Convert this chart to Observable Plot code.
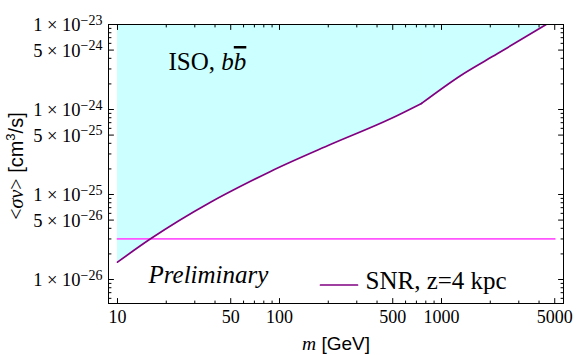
<!DOCTYPE html>
<html><head><meta charset="utf-8">
<script src="https://cdn.jsdelivr.net/npm/d3@7"></script>
<script src="https://cdn.jsdelivr.net/npm/@observablehq/plot@0.6"></script>
<style>
html,body{margin:0;padding:0;background:#fff;}
</style></head><body><div id="chart"></div>
<script>
// ISO profile, b b-bar channel: upper limit curve (two branches meeting at a kink near 750 GeV)
const massLow   = [10, 16, 37.5, 66.2, 88, 206, 484, 753];
const sigmaLow  = [1.60e-26, 3.01e-26, 8.11e-26, 1.43e-25, 1.87e-25, 3.87e-25, 7.78e-25, 1.18e-24];
const massHigh  = [753, 1309, 2208, 4426];
const sigmaHigh = [1.18e-24, 2.5e-24, 4.52e-24, 1.0e-23];
// SNR reference line
const snrMass  = [10, 5000];
const snrSigma = [3.0e-26, 3.0e-26];
// axes
const xDomain = [8.80, 5663];
const yDomain = [5.22e-27, 1e-23];
const xMajor = [10, 50, 100, 500, 1000, 5000];
const xMinor = [20, 30, 40, 60, 70, 80, 90, 200, 300, 400, 600, 700, 800, 900, 2000, 3000, 4000];
const yMajor = [1e-26, 5e-26, 1e-25, 5e-25, 1e-24, 5e-24, 1e-23];
const yMinor = [6e-27, 7e-27, 8e-27, 9e-27, 2e-26, 3e-26, 4e-26, 6e-26, 7e-26, 8e-26, 9e-26,
                2e-25, 3e-25, 4e-25, 6e-25, 7e-25, 8e-25, 9e-25, 2e-24, 3e-24, 4e-24, 6e-24, 7e-24, 8e-24, 9e-24];
const texts = {iso: "ISO, bb", prelim: "Preliminary", legend: "SNR, z=4 kpc", xLabel: "m [GeV]", yLabel: "<σv> [cm3/s]"};

const purple = "#800080", magenta = "#ff55ff", cyan = "#ccffff";
const serif = "'Liberation Serif', 'Times New Roman', serif";
const sans = "'Liberation Sans', Arial, Helvetica, sans-serif";

const curve = [
  ...massLow.map((m, i) => ({m, s: sigmaLow[i], seg: "low"})),
  ...massHigh.map((m, i) => ({m, s: sigmaHigh[i], seg: "high"}))
];
const snr = snrMass.map((m, i) => ({m, s: snrSigma[i]}));

const sciFormat = d => {
  const e = Math.floor(Math.log10(d) + 1e-9);
  const c = Math.round(d / Math.pow(10, e));
  return `${c} × 10^${e < 0 ? "−" : ""}${Math.abs(e)}`;
};

const lineShape = {draw(ctx, l) { ctx.moveTo(0, 0); ctx.lineTo(0, -l); }};
const tick = (data, channel, frameAnchor, rotate, length) =>
  Plot.vector(data, {[channel]: d => d, frameAnchor, rotate, length, anchor: "start", shape: lineShape, stroke: "black", strokeWidth: 1});

const chart = Plot.plot({
  width: 576, height: 355,
  marginLeft: 108, marginRight: 13, marginTop: 24, marginBottom: 52,
  style: {fontFamily: serif, fontSize: "18px", background: "white", color: "black"},
  x: {type: "log", domain: xDomain, axis: null},
  y: {type: "log", domain: yDomain, axis: null},
  marks: [
    Plot.areaY(curve, {x: "m", y1: "s", y2: yDomain[1], z: "seg", fill: cyan, curve: "monotone-x"}),
    Plot.line(snr, {x: "m", y: "s", stroke: magenta, strokeWidth: 1.8}),
    Plot.line(curve, {x: "m", y: "s", z: "seg", stroke: purple, strokeWidth: 1.7, curve: "monotone-x", clip: true}),
    // inward ticks on all four sides
    tick(xMajor, "x", "bottom", 0, 5), tick(xMinor, "x", "bottom", 0, 2.5),
    tick(xMajor, "x", "top", 180, 5), tick(xMinor, "x", "top", 180, 2.5),
    tick(yMajor, "y", "left", 90, 5), tick(yMinor, "y", "left", 90, 2.5),
    tick(yMajor, "y", "right", -90, 5), tick(yMinor, "y", "right", -90, 2.5),
    Plot.frame({stroke: "black", strokeWidth: 1}),
    // tick labels
    Plot.text(xMajor, {x: d => d, text: d => String(d), frameAnchor: "bottom", dy: 19.5, lineAnchor: "bottom", textAnchor: "middle", fontSize: 18}),
    Plot.text(yMajor, {y: d => d, text: sciFormat, frameAnchor: "left", dx: -6, dy: 6.5, lineAnchor: "bottom", textAnchor: "end", fontSize: 18.5}),
    // axis labels
    Plot.text([texts.xLabel], {text: d => d, frameAnchor: "bottom", dy: 46, lineAnchor: "bottom", textAnchor: "middle", fontSize: 19}),
    Plot.text([texts.yLabel], {text: d => d, frameAnchor: "left", rotate: -90, dx: -86, dy: 2, lineAnchor: "bottom", textAnchor: "middle", fontSize: 20}),
    // annotations
    Plot.text([texts.iso], {text: d => d, frameAnchor: "top-left", dx: 60, dy: 45.5, textAnchor: "start", lineAnchor: "bottom", fontSize: 25}),
    Plot.text([texts.prelim], {text: d => d, frameAnchor: "bottom-left", dx: 40, dy: -20.5, textAnchor: "start", lineAnchor: "bottom", fontSize: 25, fontStyle: "italic"}),
    Plot.vector([texts.legend], {frameAnchor: "bottom-left", dx: 212, dy: -18.5, length: 37, rotate: 90, anchor: "start", shape: lineShape, stroke: purple, strokeWidth: 1.7}),
    Plot.text([texts.legend], {text: d => d, frameAnchor: "bottom-left", dx: 257, dy: -14.5, textAnchor: "start", lineAnchor: "bottom", fontSize: 25})
  ]
});

document.getElementById("chart").appendChild(chart);

// rich text post-processing (superscripts, italics, overline, mixed fonts)
const svg = d3.select(chart);
function rebuild(node, parts) {
  const t = d3.select(node);
  t.text(null);
  for (const p of parts) {
    const s = t.append("tspan").text(p.t);
    for (const [k, v] of Object.entries(p.a || {})) s.attr(k, v);
  }
}
svg.selectAll("text").each(function() {
  const c = this.textContent;
  if (c.includes("^")) {
    const [base, exp] = c.split("^");
    rebuild(this, [{t: base}, {t: exp, a: {dy: -6.5, "font-size": 14}}]);
  } else if (c === texts.iso) {
    rebuild(this, [{t: "ISO, "}, {t: "b", a: {"font-style": "italic"}},
      {t: "b", a: {"font-style": "italic", "text-decoration": "overline"}}]);
  } else if (c === texts.xLabel) {
    rebuild(this, [{t: "m", a: {"font-style": "italic", "font-family": serif, "font-size": 19.5}},
      {t: " [GeV]", a: {"font-family": sans, "font-size": 19}}]);
  } else if (c === texts.yLabel) {
    rebuild(this, [{t: "<", a: {"font-family": serif}},
      {t: "σv", a: {"font-family": serif, "font-style": "italic"}},
      {t: ">", a: {"font-family": serif}},
      {t: " [cm", a: {"font-family": sans}},
      {t: "3", a: {"font-family": sans, "font-size": 13, dy: -8}},
      {t: "/s]", a: {"font-family": sans, dy: 8}}]);
  }
});
</script>
</body></html>
